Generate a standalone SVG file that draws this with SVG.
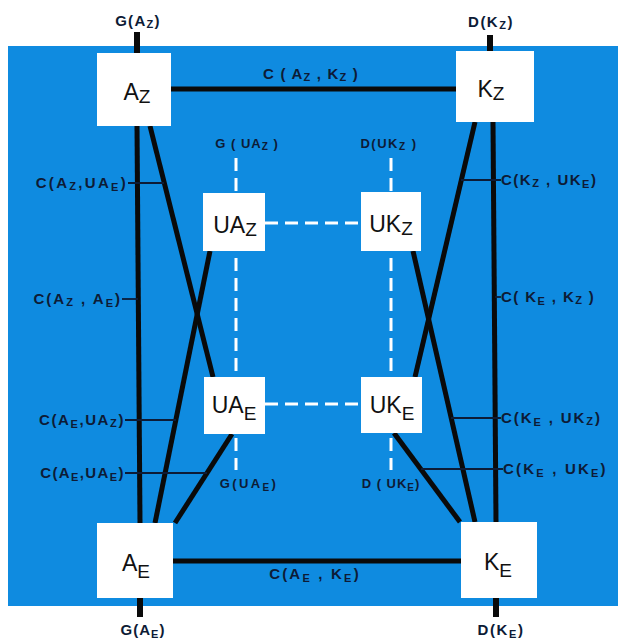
<svg xmlns="http://www.w3.org/2000/svg" width="618" height="642" viewBox="0 0 618 642">
<style>
.bg{fill:#0F8BE0}
.node{fill:#ffffff}
.nt{font-family:"Liberation Sans",Arial,sans-serif;font-size:23px;fill:#111111;text-anchor:middle}
.nt .s{font-size:19px}
.lbl{font-family:"Liberation Sans",Arial,sans-serif;font-weight:bold;font-size:15px;fill:#0d1b36;letter-spacing:1.5px}
.lbl .s{font-size:11px}
.sm{font-size:13px}
.sm .s{font-size:10px}
.mid{text-anchor:middle}
.end{text-anchor:end}
.thick{stroke:#0a0a0a;stroke-width:5;fill:none}
.stub{stroke:#0a0a0a;stroke-width:6;fill:none}
.tick{stroke:#0d1b36;stroke-width:1.8;fill:none}
.dash{stroke:#ffffff;stroke-width:3;fill:none;stroke-dasharray:13 7}
</style>
<rect class="bg" x="8" y="46" width="610" height="560"/>
<g id="connectors">
<line class="dash" x1="236" y1="158" x2="236" y2="470"/>
<line class="dash" x1="391" y1="158" x2="391" y2="470"/>
<line class="dash" x1="265" y1="223" x2="361" y2="223"/>
<line class="dash" x1="265" y1="404" x2="361" y2="404"/>
<line class="stub" x1="137" y1="32" x2="137" y2="53"/>
<line class="stub" x1="490" y1="35" x2="490" y2="51"/>
<line class="stub" x1="140" y1="598" x2="140" y2="617"/>
<line class="stub" x1="496" y1="598" x2="496" y2="617"/>
<line class="thick" x1="171" y1="89" x2="456" y2="89"/>
<line class="thick" x1="173" y1="561" x2="461" y2="561"/>
<line class="thick" x1="137" y1="126" x2="140" y2="523"/>
<line class="thick" x1="150" y1="126" x2="213" y2="377"/>
<line class="thick" x1="210" y1="251" x2="155" y2="523"/>
<line class="thick" x1="232" y1="434" x2="175" y2="523"/>
<line class="thick" x1="493" y1="122" x2="496" y2="522"/>
<line class="thick" x1="475" y1="122" x2="415" y2="377"/>
<line class="thick" x1="413" y1="251" x2="475" y2="522"/>
<line class="thick" x1="394" y1="433" x2="460" y2="522"/>
<line class="tick" x1="128" y1="183" x2="164" y2="183"/>
<line class="tick" x1="122" y1="299" x2="138" y2="299"/>
<line class="tick" x1="125" y1="420" x2="176" y2="420"/>
<line class="tick" x1="125" y1="473" x2="207" y2="473"/>
<line class="tick" x1="461" y1="180" x2="501" y2="180"/>
<line class="tick" x1="495" y1="297" x2="501" y2="297"/>
<line class="tick" x1="451" y1="418" x2="501" y2="418"/>
<line class="tick" x1="421" y1="469" x2="503" y2="469"/>
</g>
<g id="AZ"><rect class="node" x="97" y="53" width="74" height="73"/><text class="nt" x="137" y="100">A<tspan class="s" dy="3">Z</tspan></text></g>
<g id="KZ"><rect class="node" x="456" y="51" width="78" height="71"/><text class="nt" x="491" y="97">K<tspan class="s" dy="3">Z</tspan></text></g>
<g id="AE"><rect class="node" x="97" y="523" width="76" height="75"/><text class="nt" x="136" y="571">A<tspan class="s" dy="7">E</tspan></text></g>
<g id="KE"><rect class="node" x="461" y="522" width="76" height="76"/><text class="nt" x="498" y="570">K<tspan class="s" dy="7">E</tspan></text></g>
<g id="UAZ"><rect class="node" x="203" y="193" width="62" height="58"/><text class="nt" x="235" y="233">UA<tspan class="s" dy="3">Z</tspan></text></g>
<g id="UKZ"><rect class="node" x="361" y="192" width="60" height="59"/><text class="nt" x="391" y="232">UK<tspan class="s" dy="3">Z</tspan></text></g>
<g id="UAE"><rect class="node" x="204" y="377" width="61" height="57"/><text class="nt" x="234" y="413">UA<tspan class="s" dy="7">E</tspan></text></g>
<g id="UKE"><rect class="node" x="361" y="377" width="61" height="56"/><text class="nt" x="392" y="413">UK<tspan class="s" dy="7">E</tspan></text></g>
<g id="labels">
<text class="lbl mid" style="letter-spacing:1.3px" x="138" y="26">G(A<tspan class="s" dy="2">Z</tspan><tspan dy="-2">)</tspan></text>
<text class="lbl mid" style="letter-spacing:1.5px" x="491" y="27">D(K<tspan class="s" dy="2">Z</tspan><tspan dy="-2">)</tspan></text>
<text class="lbl mid" style="letter-spacing:1.2px" x="311" y="79">C ( A<tspan class="s" dy="2">Z</tspan><tspan dy="-2"> , K</tspan><tspan class="s" dy="2">Z</tspan><tspan dy="-2"> )</tspan></text>
<text class="lbl mid sm" style="letter-spacing:1px" x="247" y="148">G ( UA<tspan class="s" dy="2">Z</tspan><tspan dy="-2"> )</tspan></text>
<text class="lbl mid sm" style="letter-spacing:1.5px" x="389" y="148">D(UK<tspan class="s" dy="2">Z</tspan><tspan dy="-2"> )</tspan></text>
<text class="lbl mid sm" style="letter-spacing:2.4px" x="249" y="488">G(UA<tspan class="s" dy="3">E</tspan><tspan dy="-3">)</tspan></text>
<text class="lbl mid sm" style="letter-spacing:1px" x="391" y="488">D ( UK<tspan class="s" dy="3">E</tspan><tspan dy="-3">)</tspan></text>
<text class="lbl mid" style="letter-spacing:1px" x="143" y="635">G(A<tspan class="s" dy="3">E</tspan><tspan dy="-3">)</tspan></text>
<text class="lbl mid" style="letter-spacing:1.6px" x="501" y="635">D(K<tspan class="s" dy="3">E</tspan><tspan dy="-3">)</tspan></text>
<text class="lbl mid" style="letter-spacing:2.2px" x="315" y="579">C(A<tspan class="s" dy="3">E</tspan><tspan dy="-3"> , K</tspan><tspan class="s" dy="3">E</tspan><tspan dy="-3">)</tspan></text>
<text class="lbl end" style="letter-spacing:2.3px" x="128" y="188">C(A<tspan class="s" dy="2">Z</tspan><tspan dy="-2">,UA</tspan><tspan class="s" dy="3">E</tspan><tspan dy="-3">)</tspan></text>
<text class="lbl end" style="letter-spacing:2px" x="122" y="304">C(A<tspan class="s" dy="2">Z</tspan><tspan dy="-2"> , A</tspan><tspan class="s" dy="3">E</tspan><tspan dy="-3">)</tspan></text>
<text class="lbl end" style="letter-spacing:1.6px" x="125" y="425">C(A<tspan class="s" dy="3">E</tspan><tspan dy="-3">,UA</tspan><tspan class="s" dy="2">Z</tspan><tspan dy="-2">)</tspan></text>
<text class="lbl end" style="letter-spacing:1.4px" x="125" y="478">C(A<tspan class="s" dy="3">E</tspan><tspan dy="-3">,UA</tspan><tspan class="s" dy="3">E</tspan><tspan dy="-3">)</tspan></text>
<text class="lbl" style="letter-spacing:1.5px" x="501" y="185">C(K<tspan class="s" dy="2">Z</tspan><tspan dy="-2"> , UK</tspan><tspan class="s" dy="3">E</tspan><tspan dy="-3">)</tspan></text>
<text class="lbl" style="letter-spacing:1.4px" x="501" y="302">C( K<tspan class="s" dy="3">E</tspan><tspan dy="-3"> , K</tspan><tspan class="s" dy="2">Z</tspan><tspan dy="-2"> )</tspan></text>
<text class="lbl" style="letter-spacing:1.9px" x="501" y="423">C(K<tspan class="s" dy="3">E</tspan><tspan dy="-3"> , UK</tspan><tspan class="s" dy="2">Z</tspan><tspan dy="-2">)</tspan></text>
<text class="lbl" style="letter-spacing:2.2px" x="503" y="474">C(K<tspan class="s" dy="3">E</tspan><tspan dy="-3"> , UK</tspan><tspan class="s" dy="3">E</tspan><tspan dy="-3">)</tspan></text>
</g>
</svg>
